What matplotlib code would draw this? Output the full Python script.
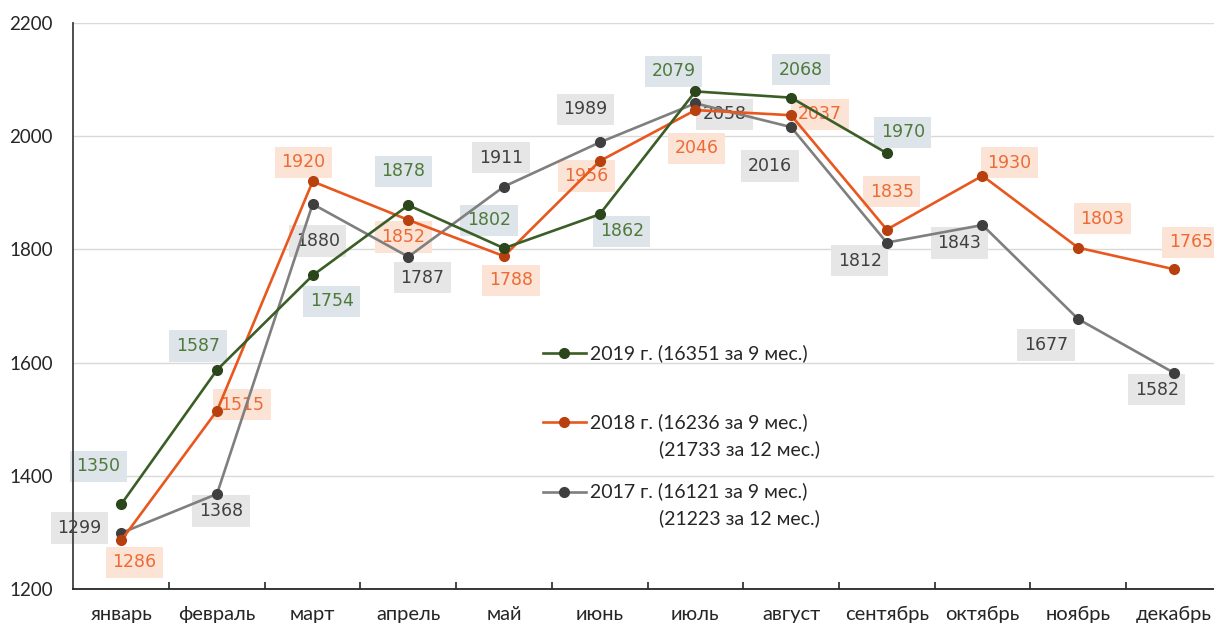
import matplotlib
matplotlib.use("Agg")
import matplotlib.pyplot as plt
from matplotlib.lines import Line2D
from matplotlib.ticker import MultipleLocator

# ── Data ───────────────────────────────────────────────────────────────────────

months = ["январь", "февраль", "март", "апрель", "май", "июнь",
          "июль", "август", "сентябрь", "октябрь", "ноябрь", "декабрь"]

vals_2019 = [1350, 1587, 1754, 1878, 1802, 1862, 2079, 2068, 1970]
vals_2018 = [1286, 1515, 1920, 1852, 1788, 1956, 2046, 2037, 1835, 1930, 1803, 1765]
vals_2017 = [1299, 1368, 1880, 1787, 1911, 1989, 2058, 2016, 1812, 1843, 1677, 1582]

legend_2019 = "2019 г. (16351 за 9 мес.)"
legend_2018 = ["2018 г. (16236 за 9 мес.)", "(21733 за 12 мес.)"]
legend_2017 = ["2017 г. (16121 за 9 мес.)", "(21223 за 12 мес.)"]

# ── Styling / label placement (pixel offsets from each point, +y = up) ─────────

off_2019 = [(-23, 38), (-19, 24), (19, -26), (-5, 34), (-15, 28), (22, -17),
            (-22, 20), (10, 28), (16, 21)]
off_2018 = [(13, -22), (25, 6), (-9, 19), (-5, -17), (7, -24), (-13, -15),
            (1, -38), (29, 1), (5, 38), (27, 13), (24, 29), (17, 27)]
off_2017 = [(-42, 5), (4, -17), (5, -37), (14, -21), (-3, 29), (-14, 33),
            (29, -11), (-21, -39), (-27, -18), (-23, -18), (-32, -26), (-17, -17)]

series = [
    # values, offsets, line colour, marker colour, label text, label bg
    (vals_2017, off_2017, "#7f7f7f", "#3f3f3f", "#404040", "#e7e6e6"),
    (vals_2018, off_2018, "#e8571e", "#b8400f", "#ee6a35", "#fbe4d5"),
    (vals_2019, off_2019, "#3b5e26", "#2a461a", "#4f7a3a", "#dde4ea"),
]

DPI = 100
fig = plt.figure(figsize=(12.14, 6.28), dpi=DPI)
ax = fig.add_axes([0.0605, 0.062, 0.9395, 0.9015])

for vals, offs, lc, mc, tc, bg in series:
    x = list(range(len(vals)))
    ax.plot(x, vals, color=lc, linewidth=1.9, marker="o", markersize=7,
            markerfacecolor=mc, markeredgecolor=mc, zorder=4)
    for xi, v, (dx, dy) in zip(x, vals, offs):
        ax.annotate(str(v), (xi, v), xytext=(dx, dy), textcoords="offset pixels",
                    ha="center", va="center", fontsize=12.5, color=tc,
                    family="DejaVu Sans", zorder=2,
                    bbox=dict(boxstyle="square,pad=0.38", facecolor=bg,
                              edgecolor="none"))

# ── Axes ───────────────────────────────────────────────────────────────────────

ax.set_xlim(-0.5, 11.42)
ax.set_ylim(1200, 2200)
ax.yaxis.set_major_locator(MultipleLocator(200))
ax.grid(axis="y", color="#d9d9d9", linewidth=1.0, zorder=0)
ax.set_axisbelow(True)

ax.set_xticks(range(12))
ax.set_xticklabels(months, family="Lato", fontsize=14.5, color="#262626")
ax.set_xticks([i + 0.5 for i in range(11)], minor=True)
ax.tick_params(axis="x", which="major", length=0, pad=12)
ax.tick_params(axis="x", which="minor", direction="in", length=5, width=1.2,
               color="#262626")
ax.tick_params(axis="y", length=0, pad=15, labelsize=13.5, labelcolor="#262626")
for lab in ax.get_yticklabels():
    lab.set_family("Lato")

for side in ("top", "right"):
    ax.spines[side].set_visible(False)
ax.spines["left"].set_color("#404040")
ax.spines["left"].set_linewidth(1.3)
ax.spines["bottom"].set_color("#262626")
ax.spines["bottom"].set_linewidth(1.3)

# ── Legend (drawn by hand so the second lines line up with the brackets) ──────

leg_items = [
    ([legend_2019], "#3b5e26", "#2a461a", 0.417),
    (legend_2018, "#e8571e", "#b8400f", 0.295),
    (legend_2017, "#7f7f7f", "#3f3f3f", 0.172),
]
for lines, lc, mc, ya in leg_items:
    h = Line2D([0.4116, 0.4490], [ya, ya], transform=ax.transAxes, color=lc,
               linewidth=1.9, zorder=5)
    m = Line2D([0.4303], [ya], transform=ax.transAxes, marker="o",
               markersize=7, color=mc, zorder=6)
    ax.add_line(h)
    ax.add_line(m)
    ax.text(0.4529, ya, lines[0], transform=ax.transAxes, va="center",
            ha="left", family="Lato", fontsize=14, color="#262626")
    if len(lines) > 1:
        ax.text(0.5134, ya - 0.0475, lines[1], transform=ax.transAxes,
                va="center", ha="left", family="Lato", fontsize=14,
                color="#262626")

fig.savefig("out.png", dpi=DPI)
